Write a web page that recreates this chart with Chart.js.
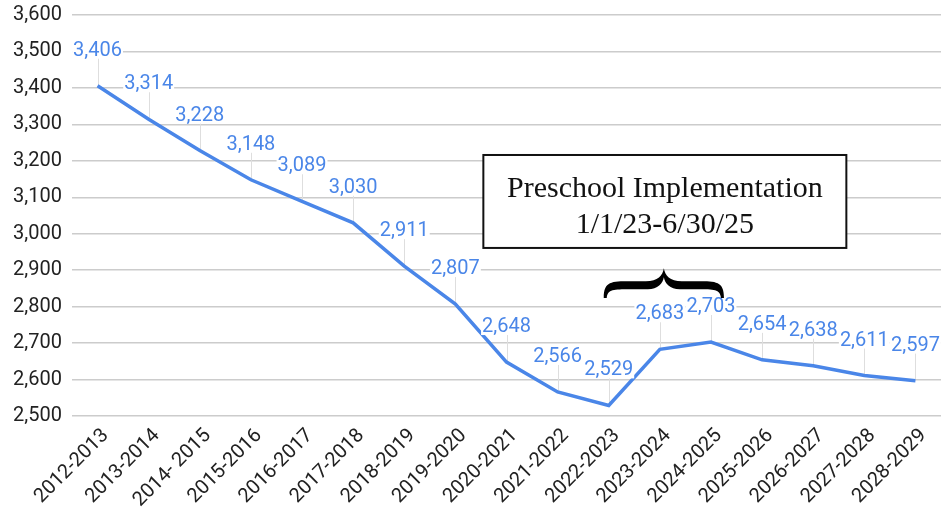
<!DOCTYPE html>
<html>
<head>
<meta charset="utf-8">
<script src="https://cdn.jsdelivr.net/npm/chart.js@4.4.1/dist/chart.umd.min.js"></script>
<style>
html,body{margin:0;padding:0;background:#fff;}
#wrap{width:943px;height:508px;position:relative;}
</style>
</head>
<body>
<div id="wrap"><canvas id="c" width="943" height="508"></canvas></div>
<script>
const categories = ["2012-2013","2013-2014","2014- 2015","2015-2016","2016-2017","2017-2018","2018-2019","2019-2020","2020-2021","2021-2022","2022-2023","2023-2024","2024-2025","2025-2026","2026-2027","2027-2028","2028-2029"];
const enrollment = [3406,3314,3228,3148,3089,3030,2911,2807,2648,2566,2529,2683,2703,2654,2638,2611,2597];
const yMin = 2500, yMax = 3600, yStep = 100;
const annotationLines = ["Preschool Implementation","1/1/23-6/30/25"];
const braceFrom = 10, braceTo = 12, boxCenterIndex = 11;

const BLUE = "#4a86e8";
const fmt = v => v.toLocaleString("en-US");

const labelPlugin = {
  id: "valueLabels",
  beforeDatasetsDraw(chart) {
    const ctx = chart.ctx;
    const meta = chart.getDatasetMeta(0);
    ctx.save();
    ctx.strokeStyle = "#dedede";
    ctx.lineWidth = 1;
    meta.data.forEach(pt => {
      ctx.beginPath();
      ctx.moveTo(Math.round(pt.x)+0.5, pt.y);
      ctx.lineTo(Math.round(pt.x)+0.5, pt.y - 28);
      ctx.stroke();
    });
    ctx.restore();
  },
  afterDatasetsDraw(chart) {
    const ctx = chart.ctx;
    const meta = chart.getDatasetMeta(0);
    ctx.save();
    ctx.font = "20px Roboto";
    ctx.textAlign = "center";
    ctx.textBaseline = "middle";
    meta.data.forEach((pt, i) => {
      const t = fmt(enrollment[i]);
      const w = ctx.measureText(t).width;
      const y = pt.y - 36;
      ctx.fillStyle = "#fff";
      ctx.fillRect(pt.x - w/2 - 1, y - 8, w + 2, 17);
      ctx.fillStyle = BLUE;
      ctx.fillText(t, pt.x, y + 1);
    });
    ctx.restore();
  }
};

const annotationPlugin = {
  id: "annot",
  afterDraw(chart) {
    const ctx = chart.ctx;
    const xs = chart.scales.x, ys = chart.scales.y;
    const cx = xs.getPixelForValue(boxCenterIndex) + 5;
    const top = ys.getPixelForValue(3216), bottom = ys.getPixelForValue(2961);
    const w = 363;
    ctx.save();
    ctx.fillStyle = "#fff";
    ctx.fillRect(cx - w/2, top, w, bottom - top);
    ctx.strokeStyle = "#111";
    ctx.lineWidth = 2;
    ctx.strokeRect(cx - w/2, top, w, bottom - top);
    ctx.fillStyle = "#111";
    ctx.font = "30px 'Liberation Serif', serif";
    ctx.textAlign = "center";
    ctx.textBaseline = "middle";
    ctx.fillText(annotationLines[0], cx, top + 34);
    ctx.fillText(annotationLines[1], cx, top + 70);
    const x0 = xs.getPixelForValue(braceFrom) - 5;
    const x1 = xs.getPixelForValue(braceTo) + 13;
    const mid = (x0 + x1) / 2;
    const yTip = ys.getPixelForValue(2905);
    const yEnd = ys.getPixelForValue(2824);
    const yBarTop = yTip + 13, yBarBot = yTip + 21;
    ctx.fillStyle = "#000";
    ctx.beginPath();
    ctx.moveTo(x0, yEnd);
    ctx.bezierCurveTo(x0, yBarTop, x0 + 8, yBarTop, x0 + 26, yBarTop);
    ctx.lineTo(mid - 18, yBarTop);
    ctx.bezierCurveTo(mid - 6, yBarTop, mid - 1, yBarTop - 6, mid, yTip);
    ctx.bezierCurveTo(mid + 1, yBarTop - 6, mid + 6, yBarTop, mid + 18, yBarTop);
    ctx.lineTo(x1 - 26, yBarTop);
    ctx.bezierCurveTo(x1 - 8, yBarTop, x1, yBarTop, x1, yEnd);
    ctx.lineTo(x1 - 3, yEnd);
    ctx.bezierCurveTo(x1 - 4, yBarBot, x1 - 10, yBarBot, x1 - 26, yBarBot);
    ctx.lineTo(mid + 16, yBarBot);
    ctx.bezierCurveTo(mid + 6, yBarBot, mid + 1, yBarBot - 6, mid, yBarTop - 4);
    ctx.bezierCurveTo(mid - 1, yBarBot - 6, mid - 6, yBarBot, mid - 16, yBarBot);
    ctx.lineTo(x0 + 26, yBarBot);
    ctx.bezierCurveTo(x0 + 10, yBarBot, x0 + 4, yBarBot, x0 + 3, yEnd);
    ctx.closePath();
    ctx.fill();
    ctx.restore();
  }
};

new Chart(document.getElementById("c"), {
  type: "line",
  data: {
    labels: categories,
    datasets: [{
      data: enrollment,
      borderColor: BLUE,
      borderWidth: 3.5,
      pointRadius: 0,
      tension: 0,
      fill: false
    }]
  },
  options: {
    responsive: false,
    animation: false,
    devicePixelRatio: 1,
    layout: { padding: { top: 0, right: 2, left: 0, bottom: 0 } },
    plugins: { legend: { display: false }, tooltip: { enabled: false } },
    scales: {
      x: {
        offset: true,
        grid: { display: false, drawTicks: false },
        border: { display: false },
        ticks: {
          color: "#222",
          font: { family: "Roboto", size: 20 },
          maxRotation: 45, minRotation: 45,
          autoSkip: false,
          padding: 8,
          labelOffset: 8
        },
        afterFit(s) { s.height = 92; }
      },
      y: {
        min: yMin, max: yMax,
        grid: { color: "#cccccc", lineWidth: 1.5, drawTicks: false },
        border: { display: false },
        ticks: {
          stepSize: yStep,
          color: "#222",
          font: { family: "Roboto", size: 20 },
          padding: 10,
          callback: v => fmt(v)
        },
        afterFit(s) { s.width = 72; s.paddingTop = 15; s.paddingBottom = 0; }
      }
    }
  },
  plugins: [labelPlugin, annotationPlugin]
});
</script>
</body>
</html>
